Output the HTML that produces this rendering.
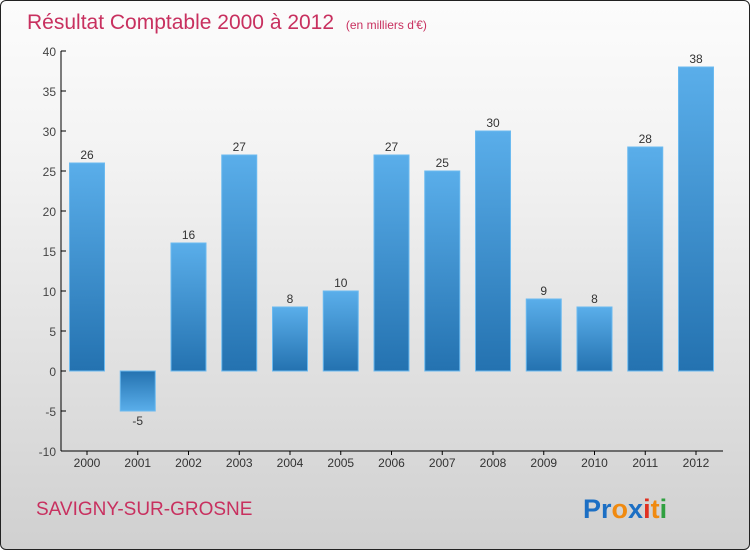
<!DOCTYPE html>
<html><head><meta charset="utf-8"><style>
body{margin:0}
#c{width:748px;height:548px;border:1px solid #222;border-radius:6px;background:linear-gradient(#fcfcfc,#f2f2f2 30%,#d0d0d0);position:relative;overflow:hidden;font-family:"Liberation Sans",sans-serif}
</style></head><body>
<div id="c">
<svg width="748" height="548" style="position:absolute;left:0;top:0">
<defs>
<linearGradient id="gp" x1="0" y1="0" x2="0" y2="1"><stop offset="0" stop-color="#5aaeea"/><stop offset="1" stop-color="#2472b0"/></linearGradient>
<linearGradient id="gn" x1="0" y1="0" x2="0" y2="1"><stop offset="0" stop-color="#2472b0"/><stop offset="1" stop-color="#5aaeea"/></linearGradient>
</defs>
<text x="26" y="28" font-size="21" fill="#c8305f">Résultat Comptable 2000 à 2012 <tspan font-size="12" dx="6">(en milliers d'€)</tspan></text>
<g id="plot"></g>
<text x="35" y="514" font-size="19" fill="#c8305f">SAVIGNY-SUR-GROSNE</text>
<text x="582" y="517" font-size="27" font-weight="bold"><tspan fill="#1c6fc4">Pr</tspan><tspan fill="#f08a10">o</tspan><tspan fill="#1c6fc4">x</tspan><tspan fill="#e03020">i</tspan><tspan fill="#f08a10">t</tspan><tspan fill="#30a040">i</tspan></text>
</svg>
</div>
<script>
const years=["2000","2001","2002","2003","2004","2005","2006","2007","2008","2009","2010","2011","2012"];
const values=[26,-5,16,27,8,10,27,25,30,9,8,28,38];
const yTicks=[-10,-5,0,5,10,15,20,25,30,35,40];
const NS="http://www.w3.org/2000/svg";
const g=document.getElementById('plot');
const y=v=>370-v*8;
const x=i=>86+i*50.75;
function el(t,a){const e=document.createElementNS(NS,t);for(const k in a)e.setAttribute(k,a[k]);g.appendChild(e);return e;}
let ax=el('line',{x1:60,y1:y(40),x2:60,y2:y(-10),stroke:'#000'});

let bx=el('line',{x1:60,y1:y(-10),x2:722,y2:y(-10),stroke:'#000'});

yTicks.forEach(t=>{
 const l=el('line',{x1:60,y1:y(t),x2:65,y2:y(t),stroke:'#000'});
 
 const tx=el('text',{x:55,y:y(t)+5,'font-size':12,fill:'#444','text-anchor':'end'});tx.textContent=t;
 
});
years.forEach((yr,i)=>{
 const v=values[i],cx=x(i);
 const r=el('rect',{x:cx-17.5,y:Math.min(y(v),y(0)),width:35,height:Math.abs(y(v)-y(0)),fill:v>=0?'url(#gp)':'url(#gn)',stroke:'#6bbaf0','stroke-width':1});
 
 const lb=el('text',{x:cx,y:v>=0?y(v)-4:y(v)+14,'font-size':12,fill:'#333','text-anchor':'middle'});lb.textContent=v;
 
 const tk=el('line',{x1:cx,y1:y(-10),x2:cx,y2:y(-10)+4,stroke:'#000'});
 
 const xl=el('text',{x:cx,y:466,'font-size':12,fill:'#333','text-anchor':'middle'});xl.textContent=yr;
 
});
</script>
</body></html>
